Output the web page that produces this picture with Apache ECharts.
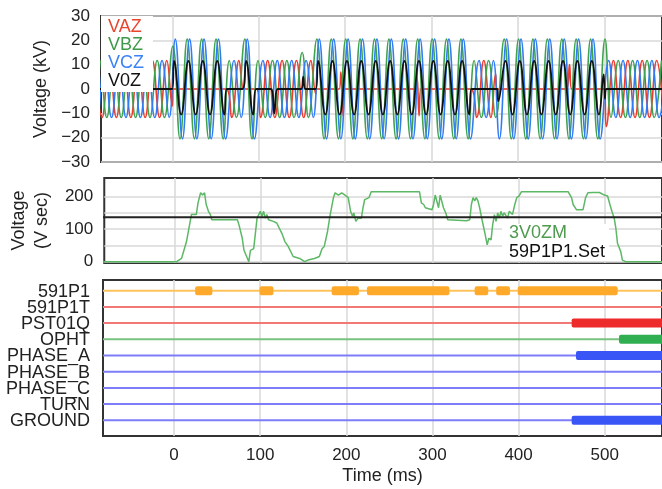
<!DOCTYPE html>
<html><head><meta charset="utf-8">
<script src="https://cdn.jsdelivr.net/npm/echarts@6/dist/echarts.min.js"></script>
<style>html,body{margin:0;padding:0;background:#fff}#c{width:662px;height:489px}</style>
</head><body><div id="c"></div>
<script>
// ---------- data ----------
const timeTicks = [0, 100, 200, 300, 400, 500];
const voltTicks = [-30, -20, -10, 0, 10, 20, 30];
const vsecLabels = [0, 100, 200];
const vsecGrid = [0, 50, 100, 150, 200];

// VAZ [ms, kV]
const vazData = [[-89.7,11.7],[-81.3,-11.7],[-73.0,11.7],[-64.7,-11.7],[-56.3,11.7],[-48.0,-11.7],[-39.7,11.7],[-31.4,-11.7],[-23.0,11.7],[-14.7,-11.7],[-6.4,11.7],[0,-7],[1,0],
[62,0],[68.6,-11.7],[77.0,11.7],[80.5,2],[81.5,0],
[97,0],[102.0,-11.7],[110.3,11.7],[118.6,-11.7],[127.0,11.7],[135.3,-11.7],[143.6,11.7],[152.0,-11.7],[160.3,11.7],[166,-2],[167,0],
[193,0],[195,7],[197.5,-11],[199.5,0],
[281,0],[283,5],[285.5,-11],[287.5,0],
[345,0],[352.0,-11.7],[360.3,11.7],[368.6,-11.7],[374,6],[376,0],
[456,0],[459.5,10],[462,0],
[499.5,0],[502.0,-15.5],[510.3,11.7],[518.6,-11.7],[527.0,11.7],[535.3,-11.7],[543.6,11.7],[552.0,-11.7],[560.3,11.7],[568.6,-11.7]];

// VBZ [ms, kV]
const vbzData = [[-92.5,-11.7],[-84.1,11.7],[-75.8,-11.7],[-67.5,11.7],[-59.1,-11.7],[-50.8,11.7],[-42.5,-11.7],[-34.1,11.7],[-25.8,-11.7],[-17.5,11.7],[-9.1,-11.7],
[0.6,17.5],[8.9,-20.5],[17.2,20.5],[25.6,-20.5],[33.9,20.5],[42.2,-20.5],[50.6,20.5],[58.9,-20.5],
[65.9,11.7],[74.2,-11.7],
[83.9,20.5],[92.2,-20.5],
[99.2,11.7],[107.5,-11.7],[115.9,11.7],[124.2,-11.7],[132.5,11.7],[140.8,-11.7],[150.2,15],[157.5,-11.7],
[167.2,20.5],[175.6,-20.5],[183.9,20.5],[192.2,-20.5],[200.6,20.5],[208.9,-20.5],[217.2,20.5],[225.6,-20.5],[233.9,20.5],[242.2,-20.5],[250.6,20.5],[258.9,-20.5],[267.2,20.5],[275.6,-20.5],[283.9,20.5],[292.2,-20.5],[300.6,20.5],[308.9,-20.5],[317.2,20.5],[325.6,-20.5],[333.9,20.5],[342.2,-20.5],
[349.2,11.7],[357.5,-11.7],[365.9,11.7],[374.2,-11.7],
[383.9,20.5],[392.2,-20.5],[400.6,20.5],[408.9,-20.5],[417.2,20.5],[425.6,-20.5],[433.9,20.5],[442.2,-20.5],[450.6,20.5],[458.9,-20.5],[467.2,20.5],[475.6,-20.5],[483.9,20.5],[492.2,-20.5],[500.6,20.5],
[507.5,-11.7],[515.9,11.7],[524.2,-11.7],[532.5,11.7],[540.8,-11.7],[549.2,11.7],[557.5,-11.7],[565.9,11.7]];

// VCZ [ms, kV]
const vczData = [[-95.2,11.7],[-87.0,-11.7],[-78.6,11.7],[-70.3,-11.7],[-61.9,11.7],[-53.6,-11.7],[-45.2,11.7],[-36.9,-11.7],[-28.6,11.7],[-20.3,-11.7],[-11.9,11.7],[-3.6,-11.7],
[3.4,20.5],[11.7,-20.5],[20.0,20.5],[28.4,-20.5],[36.7,20.5],[45.0,-20.5],[53.4,20.5],[61.7,-20.5],
[71.4,11.7],[79.7,-11.7],
[86.7,20.5],[95.0,-20.5],
[104.8,11.7],[113.1,-11.7],[121.4,11.7],[129.7,-11.7],[138.1,11.7],[146.4,-11.7],[154.8,11.7],[163.1,-11.7],
[170.0,20.5],[178.4,-20.5],[186.7,20.5],[195.0,-20.5],[203.4,20.5],[211.7,-20.5],[220.0,20.5],[228.4,-20.5],[236.7,20.5],[245.0,-20.5],[253.4,20.5],[261.7,-20.5],[270.0,20.5],[278.4,-20.5],[286.7,20.5],[295.0,-20.5],[303.4,20.5],[311.7,-20.5],[320.0,20.5],[328.4,-20.5],[336.7,20.5],[345.0,-20.5],
[354.8,11.7],[363.1,-11.7],[371.4,11.7],
[378.4,-20.5],[386.7,20.5],[395.0,-20.5],[403.4,20.5],[411.7,-20.5],[420.0,20.5],[428.4,-20.5],[436.7,20.5],[445.0,-20.5],[453.4,20.5],[461.7,-20.5],[470.0,20.5],[478.4,-20.5],[486.7,20.5],[495.0,-20.5],
[504.8,11.7],[513.1,-11.7],[521.4,11.7],[529.7,-11.7],[538.1,11.7],[546.4,-11.7],[554.8,11.7],[563.1,-11.7],[571.4,11.7]];

// V0Z [ms, kV]
const v0zData = [[-90,0],[0,0],[2.0,11.5],[10.3,-10.5],[18.6,11.5],[27.0,-10.5],[35.3,11.5],[43.6,-10.5],[52.0,11.5],[60.3,-10.5],[63,0],
[81,0],[85.3,11.5],[93.6,-10.5],[97,0],
[114,0],[118,-10],[122,0],
[149,0],[151.5,5],[154,0],
[166,0],[168.6,11.5],[177.0,-10.5],[185.3,11.5],[193.6,-10.5],[202.0,11.5],[210.3,-10.5],[218.6,11.5],[227.0,-10.5],[235.3,11.5],[243.6,-10.5],[252.0,11.5],[260.3,-10.5],[268.6,11.5],[277.0,-10.5],[285.3,11.5],[293.6,-10.5],[302.0,11.5],[310.3,-10.5],[318.6,11.5],[327.0,-10.5],[335.3,11.5],[343.6,-10.5],[346,0],
[376,0],[377.0,-5],[385.3,11.5],[393.6,-10.5],[402.0,11.5],[410.3,-10.5],[418.6,11.5],[427.0,-10.5],[435.3,11.5],[443.6,-10.5],[452.0,11.5],[460.3,-10.5],[468.6,11.5],[477.0,-10.5],[485.3,11.5],[493.6,-10.5],[499,6],[500.5,-4],[502,0],[570,0]];

// 3V0ZM [ms, V sec]
const v0zmData = [[-90,0],[1.7,0],[7.4,10],[13.2,62],[15.1,57],[18.9,145],[24.6,145],[26.6,181],[29.6,212],[31.9,205],[34.2,212],[36.1,176],[38.7,155],[41.0,145],[42.6,129],[72.4,129],[74.2,114],[78.1,72],[80.0,36],[81.9,40],[85.7,0],[87.6,35],[91.4,40],[93.4,35],[95.3,134],[99.1,155],[101,139],[102.9,155],[104.8,134],[106.7,145],[108.6,129],[114.3,124],[118.2,119],[124,88],[127.7,62],[131.5,47],[137.3,16],[144.9,10],[150.6,0],[154.5,5],[162.1,10],[167.8,16],[170.9,40],[173.5,47],[177.3,93],[180.4,145],[184.2,197],[186.1,212],[190,205],[193.8,212],[197.6,205],[201.4,197],[204.1,155],[206.4,140],[207.9,150],[210.2,124],[212.9,134],[214.8,129],[216.7,134],[218.6,166],[220.5,191],[222.4,197],[225.5,197],[228.1,215],[284.3,215],[286.5,181],[289.2,176],[291.1,166],[293.1,160],[298.8,160],[300.7,176],[302.6,205],[304.5,205],[306.5,166],[308.4,205],[310.3,208],[312.2,166],[314.9,150],[317.2,129],[318.7,126],[338.9,126],[342.8,129],[344.7,176],[346.6,197],[348.5,187],[350.4,197],[352.3,187],[354.3,166],[356.2,140],[358.1,134],[360,93],[363.1,52],[365,72],[367.6,67],[369.5,114],[371.5,145],[373.4,124],[375.3,150],[377.2,134],[379.1,155],[381,140],[382.9,150],[386.8,134],[388.7,155],[392.5,145],[395.2,176],[397.5,197],[400.1,202],[402.8,215],[457.4,215],[461.2,197],[463.1,176],[465,181],[466.9,160],[474.6,160],[477.6,197],[480.3,212],[486,213],[493.7,213],[499.4,205],[503.2,202],[505.9,176],[508.2,155],[510.9,134],[512.8,103],[514.7,57],[516.6,52],[518.5,31],[520.4,5],[524.3,0],[570,0]];

// 59P1P1.Set threshold [V sec]
const setData = [[-90,137],[570,137]];

// digital rows (top to bottom) and active intervals [start ms, end ms, row]
const rowNames = ['591P1','591P1T','PST01Q','OPHT','PHASE_A','PHASE_B','PHASE_C','TURN','GROUND'];
const rowIndex = [0,1,2,3,4,5,6,7,8];
const bars = [[24.5,44.4,0],[99.3,115.3,0],[183,214.6,0],[224,319.6,0],[349,364.7,0],[374,390,0],[399,515,0],
  [461.6,600,2],[516.6,600,3],[466.6,600,4],[461.6,600,8]];

// ---------- styling ----------
const FONT = '"Liberation Sans", Arial, sans-serif';
const TXT = '#222';
const RED = '#ee3b2e', GREEN = '#3fa34d', BLUE = '#2f7cf6', BLACK = '#111';
const rowThin = ['#ffc35c','#f27878','#f27878','#79c27f','#7d7dfa','#7d7dfa','#7d7dfa','#7d7dfa','#7d7dfa'];
const rowThick = ['#ffa92a','#ee2b2b','#ee2b2b','#2fae52','#3a55f5','#3a55f5','#3a55f5','#3a55f5','#3a55f5'];
const X_MIN = -82.5, X_MAX = 566.5;
const GRIDC = '#d8d8d8';

function xAxisFor(gi, labels) {
  return {
    type: 'value', gridIndex: gi, min: X_MIN, max: X_MAX,
    axisLine: {show: false},
    axisTick: {show: false, customValues: timeTicks},
    axisLabel: {show: labels, customValues: timeTicks, fontFamily: FONT, fontSize: 17, color: TXT, margin: 11},
    splitLine: {show: true, lineStyle: {color: GRIDC, width: 1.5}},
    name: labels ? 'Time (ms)' : '', nameLocation: 'middle', nameGap: 31,
    nameTextStyle: {fontFamily: FONT, fontSize: 18, color: TXT}
  };
}

const chart = echarts.init(document.getElementById('c'), null, {renderer: 'canvas'});
chart.setOption({
  animation: false,
  backgroundColor: '#fff',
  grid: [
    {left: 101, top: 16, height: 146, right: -6, show: true, borderColor: '#333', borderWidth: 2},
    {left: 101, top: 178, height: 85, right: -6, show: true, borderColor: '#333', borderWidth: 2},
    {left: 103, top: 280, height: 156, right: -8, show: true, borderColor: '#333', borderWidth: 2}
  ],
  xAxis: [xAxisFor(0, false), xAxisFor(1, false), xAxisFor(2, true)],
  yAxis: [
    {type: 'value', gridIndex: 0, min: -30, max: 30, interval: 10,
     axisLine: {show: false}, axisTick: {show: false},
     axisLabel: {fontFamily: FONT, fontSize: 17, color: TXT, margin: 11,
       formatter: v => String(v).replace('-', '\u2212')},
     splitLine: {lineStyle: {color: GRIDC, width: 1.5}},
     name: 'Voltage (kV)', nameLocation: 'middle', nameGap: 49,
     nameTextStyle: {fontFamily: FONT, fontSize: 18, color: TXT}},
    {type: 'value', gridIndex: 1, min: -4, max: 257.5,
     axisLine: {show: false}, axisTick: {show: false, customValues: vsecGrid},
     axisLabel: {customValues: vsecLabels, fontFamily: FONT, fontSize: 17, color: TXT, margin: 11},
     splitLine: {lineStyle: {color: GRIDC, width: 1.5}},
     name: 'Voltage\n(V sec)', nameLocation: 'middle', nameGap: 50,
     nameTextStyle: {fontFamily: FONT, fontSize: 18, color: TXT, lineHeight: 23}},
    {type: 'value', gridIndex: 2, min: -0.66, max: 8.97, inverse: true,
     axisLine: {show: false}, axisTick: {show: false}, axisLabel: {show: false},
     splitLine: {show: false}}
  ],
  legend: [
    {left: 101, top: 16, orient: 'vertical', backgroundColor: '#fff', padding: [2, 9, 2, 1],
     itemWidth: 0, itemHeight: 0, itemGap: 0, selectedMode: false, z: 10,
     textStyle: {fontFamily: FONT, fontSize: 18, lineHeight: 17},
     data: [{name: 'VAZ', textStyle: {color: '#e8452c'}}, {name: 'VBZ', textStyle: {color: '#3e9a48'}},
            {name: 'VCZ', textStyle: {color: '#3b82f6'}}, {name: 'V0Z', textStyle: {color: '#111'}}]},
    {left: 502, top: 224, orient: 'vertical', backgroundColor: '#fff', padding: [0, 4, 0, 1],
     itemWidth: 0, itemHeight: 0, itemGap: 0, selectedMode: false, z: 10,
     textStyle: {fontFamily: FONT, fontSize: 18, lineHeight: 18.5},
     data: [{name: '3V0ZM', textStyle: {color: '#4f9a4f'}}, {name: '59P1P1.Set', textStyle: {color: '#111'}}]}
  ],
  series: [
    {name: 'VAZ', type: 'line', xAxisIndex: 0, yAxisIndex: 0, data: vazData, showSymbol: false, smooth: 0.45,
     lineStyle: {color: RED, width: 1.6}, itemStyle: {color: RED}},
    {name: 'VBZ', type: 'line', xAxisIndex: 0, yAxisIndex: 0, data: vbzData, showSymbol: false, smooth: 0.45,
     lineStyle: {color: GREEN, width: 1.6}, itemStyle: {color: GREEN}},
    {name: 'VCZ', type: 'line', xAxisIndex: 0, yAxisIndex: 0, data: vczData, showSymbol: false, smooth: 0.45,
     lineStyle: {color: BLUE, width: 1.6}, itemStyle: {color: BLUE}},
    {name: 'V0Z', type: 'line', xAxisIndex: 0, yAxisIndex: 0, data: v0zData, showSymbol: false, smooth: 0.45,
     lineStyle: {color: BLACK, width: 1.8}, itemStyle: {color: BLACK}},
    {name: '3V0ZM', type: 'line', xAxisIndex: 1, yAxisIndex: 1, data: v0zmData, showSymbol: false,
     lineStyle: {color: '#5cb865', width: 1.5}, itemStyle: {color: '#5cb865'}},
    {name: '59P1P1.Set', type: 'line', xAxisIndex: 1, yAxisIndex: 1, data: setData, showSymbol: false,
     lineStyle: {color: '#222', width: 2}, itemStyle: {color: '#222'}},
    {name: 'rows', type: 'custom', xAxisIndex: 2, yAxisIndex: 2, data: rowIndex.map(r => [r]),
     clip: true,
     renderItem: (params, api) => {
       const r = api.value(0);
       const a = api.coord([X_MIN, r]), b = api.coord([X_MAX, r]);
       return {type: 'line', shape: {x1: a[0], y1: a[1], x2: b[0], y2: b[1]},
               style: {stroke: rowThin[r], lineWidth: 2}};
     }},
    {name: 'rowLabels', type: 'custom', xAxisIndex: 2, yAxisIndex: 2, data: rowIndex.map(r => [r]),
     clip: false, silent: true,
     renderItem: (params, api) => {
       const r = api.value(0);
       const a = api.coord([X_MIN, r]);
       return {type: 'text', x: a[0] - 13, y: a[1] + 1,
               style: {text: rowNames[r], align: 'right', verticalAlign: 'middle',
                       fontFamily: FONT, fontSize: 18, fill: TXT}};
     }},
    {name: 'bars', type: 'custom', xAxisIndex: 2, yAxisIndex: 2, data: bars, clip: true,
     renderItem: (params, api) => {
       const r = api.value(2);
       const a = api.coord([api.value(0), r]), b = api.coord([api.value(1), r]);
       return {type: 'rect', shape: {x: a[0], y: a[1] - 4.5, width: b[0] - a[0], height: 9, r: 2},
               style: {fill: rowThick[r]}};
     }}
  ]
});
</script></body></html>
